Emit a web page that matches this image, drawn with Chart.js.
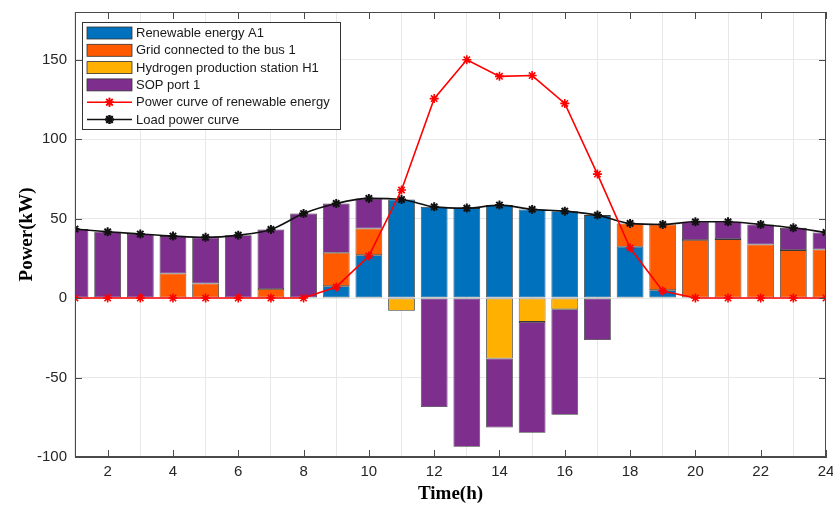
<!DOCTYPE html>
<html>
<head>
<meta charset="utf-8">
<script src="https://cdn.jsdelivr.net/npm/chart.js@4.4.0/dist/chart.umd.min.js"></script>
<style>
  html, body { margin: 0; padding: 0; background: #ffffff; }
  #wrap { width: 833px; height: 509px; position: relative; }
</style>
</head>
<body>
<div id="wrap"><canvas id="c" width="833" height="509"></canvas></div>
<script>
// ---- Data ----
const hours = [1,2,3,4,5,6,7,8,9,10,11,12,13,14,15,16,17,18,19,20,21,22,23,24];
const renewableA1 = [0,0,0,0,0,0,0,0,7.5,27,62,57.4,56.6,58.5,55.8,54.7,52.2,32.3,5,0,0,0,0,0];
const gridBus1    = [0,0,0,15.5,9.2,0,5.7,0,21,16.8,0,0,0,0,0,0,0,14.7,41.3,36.5,37.1,33.7,30.2,30.6];
const hydrogenH1  = [0,0,0,0,0,0,0,0,0,0,-8,0,0,-38,-15,-7,0,0,0,0,0,0,0,0];
const sopPort1    = [43.4,41.7,40.3,23.5,29,39.6,37.5,53.2,31,18.9,0,-68.5,-93.6,-43.5,-69.7,-66.4,-26.4,0,0,11.5,10.9,12.6,14,10.7];
const renewablePower = [0,0,0,0,0,0,0,0,7,26.5,68,125.5,150,139.5,140,122.5,78,31.5,4.5,0,0,0,0,0];
const loadPower      = [43.4,41.7,40.3,39,38.2,39.6,43.2,53.2,59.5,62.7,62,57.4,56.6,58.5,55.8,54.7,52.2,47,46.3,48,48,46.3,44.2,41.3];
const xTickValues = [2,4,6,8,10,12,14,16,18,20,22,24];
const yTickValues = [-100,-50,0,50,100,150];
const seriesLabels = ['Renewable energy A1','Grid connected to the bus 1','Hydrogen production station H1','SOP port 1','Power curve of renewable energy','Load power curve'];

const barColors = ['#0072BD', '#FF5A00', '#FFB000', '#7E2F8E'];
const barSeries = [renewableA1, gridBus1, hydrogenH1, sopPort1];

const toPts = (arr, skipZero) => hours.map((h, i) => ({x: h, y: (skipZero && arr[i] === 0) ? null : arr[i]}));

const datasets = barSeries.map((arr, k) => ({
  type: 'bar',
  label: seriesLabels[k],
  data: toPts(arr, true),
  backgroundColor: barColors[k],
  borderColor: 'rgba(35,35,35,0.9)',
  borderWidth: 0.8,
  borderSkipped: false,
  barPercentage: 0.82,
  categoryPercentage: 1.0,
  stack: 'bars',
  clip: 0,
  order: 2
}));
datasets.push({
  type: 'line',
  label: seriesLabels[4],
  data: toPts(renewablePower, false),
  borderColor: '#FF0000',
  backgroundColor: '#FF0000',
  borderWidth: 1.6,
  pointStyle: 'star',
  pointRadius: 4.5,
  pointBorderWidth: 1.6,
  pointBorderColor: '#FF0000',
  tension: 0,
  stack: 'renew',
  order: 0
});
datasets.push({
  type: 'line',
  label: seriesLabels[5],
  data: toPts(loadPower, false),
  borderColor: '#111111',
  backgroundColor: '#111111',
  borderWidth: 1.6,
  pointStyle: 'star',
  pointRadius: 4.5,
  pointBorderWidth: 2,
  pointBorderColor: '#111111',
  cubicInterpolationMode: 'monotone',
  stack: 'load',
  order: 1
});

const frameAndLegend = {
  id: 'frameAndLegend',
  afterDatasetsDraw(chart) {
    const ctx = chart.ctx;
    const a = chart.chartArea;
    const xs = chart.scales.x, ys = chart.scales.y;
    ctx.save();
    ctx.strokeStyle = '#4a4a4a';
    ctx.lineWidth = 1;
    ctx.strokeRect(Math.round(a.left) + 0.5, Math.round(a.top) + 0.5, Math.round(a.right - a.left) - 1, Math.round(a.bottom - a.top) - 1);
    ctx.beginPath();
    const tl = 7;
    xTickValues.forEach(v => {
      const px = Math.round(xs.getPixelForValue(v)) + 0.5;
      ctx.moveTo(px, a.bottom); ctx.lineTo(px, a.bottom - tl);
      ctx.moveTo(px, a.top); ctx.lineTo(px, a.top + tl);
    });
    yTickValues.forEach(v => {
      const py = Math.round(ys.getPixelForValue(v)) + 0.5;
      ctx.moveTo(a.left, py); ctx.lineTo(a.left + tl, py);
      ctx.moveTo(a.right, py); ctx.lineTo(a.right - tl, py);
    });
    ctx.stroke();

    // legend
    const lx = 82.5, ly = 22.5, lw = 258, lh = 107;
    ctx.fillStyle = '#ffffff';
    ctx.fillRect(lx, ly, lw, lh);
    ctx.strokeStyle = '#333333';
    ctx.strokeRect(lx, ly, lw, lh);
    ctx.font = '13px "Liberation Sans", Arial, sans-serif';
    ctx.textBaseline = 'middle';
    ctx.textAlign = 'left';
    const rowH = 17.3, y0 = 33;
    chart.data.datasets.forEach((ds, i) => {
      const cy = y0 + i * rowH;
      if (ds.type === 'bar') {
        ctx.fillStyle = ds.backgroundColor;
        ctx.fillRect(87, cy - 6, 45, 12);
        ctx.strokeStyle = '#333333';
        ctx.lineWidth = 0.8;
        ctx.strokeRect(87, cy - 6, 45, 12);
      } else {
        ctx.strokeStyle = ds.borderColor;
        ctx.lineWidth = 1.6;
        ctx.beginPath();
        ctx.moveTo(87, cy); ctx.lineTo(132, cy);
        ctx.stroke();
        ctx.lineWidth = ds.pointBorderWidth;
        Chart.helpers.drawPoint(ctx, {pointStyle: 'star', radius: 4.5, borderWidth: ds.pointBorderWidth, rotation: 0}, 109.5, cy);
        ctx.stroke();
      }
      ctx.fillStyle = '#1a1a1a';
      ctx.fillText(ds.label, 136, cy + 0.5);
    });
    ctx.restore();
  }
};

new Chart(document.getElementById('c'), {
  data: { datasets },
  options: {
    responsive: false,
    animation: false,
    layout: { padding: { top: 12, right: 7, left: 0, bottom: 0 } },
    plugins: { legend: { display: false }, tooltip: { enabled: false } },
    scales: {
      x: {
        type: 'linear',
        min: 1, max: 24,
        offset: false,
        stacked: true,
        grid: { color: '#e8e8e8', drawTicks: false, lineWidth: 1 },
        border: { display: true, color: '#4a4a4a' },
        ticks: { font: { size: 15, family: '"Liberation Sans", Arial, sans-serif' }, color: '#262626', padding: 6, maxRotation: 0 },
        afterBuildTicks: axis => { axis.ticks = xTickValues.map(v => ({ value: v })); },
        afterFit: s => { s.height = 52; s.paddingLeft = 0; s.paddingRight = 0; },
        title: { display: true, text: 'Time(h)', color: '#000000', font: { size: 19, weight: 'bold', family: '"Liberation Serif", "Times New Roman", serif' }, padding: { top: 0, bottom: 4 } }
      },
      y: {
        type: 'linear',
        min: -100, max: 180,
        stacked: true,
        grid: { color: '#e8e8e8', drawTicks: false, lineWidth: 1 },
        border: { display: true, color: '#4a4a4a' },
        ticks: { font: { size: 15, family: '"Liberation Sans", Arial, sans-serif' }, color: '#262626', padding: 8 },
        afterBuildTicks: axis => { axis.ticks = yTickValues.map(v => ({ value: v })); },
        afterFit: s => { s.width = 75; s.paddingTop = 0; s.paddingBottom = 0; },
        title: { display: true, text: 'Power(kW)', color: '#000000', font: { size: 19, weight: 'bold', family: '"Liberation Serif", "Times New Roman", serif' }, padding: { top: 16, bottom: 0 } }
      }
    }
  },
  plugins: [frameAndLegend]
});
</script>
</body>
</html>
